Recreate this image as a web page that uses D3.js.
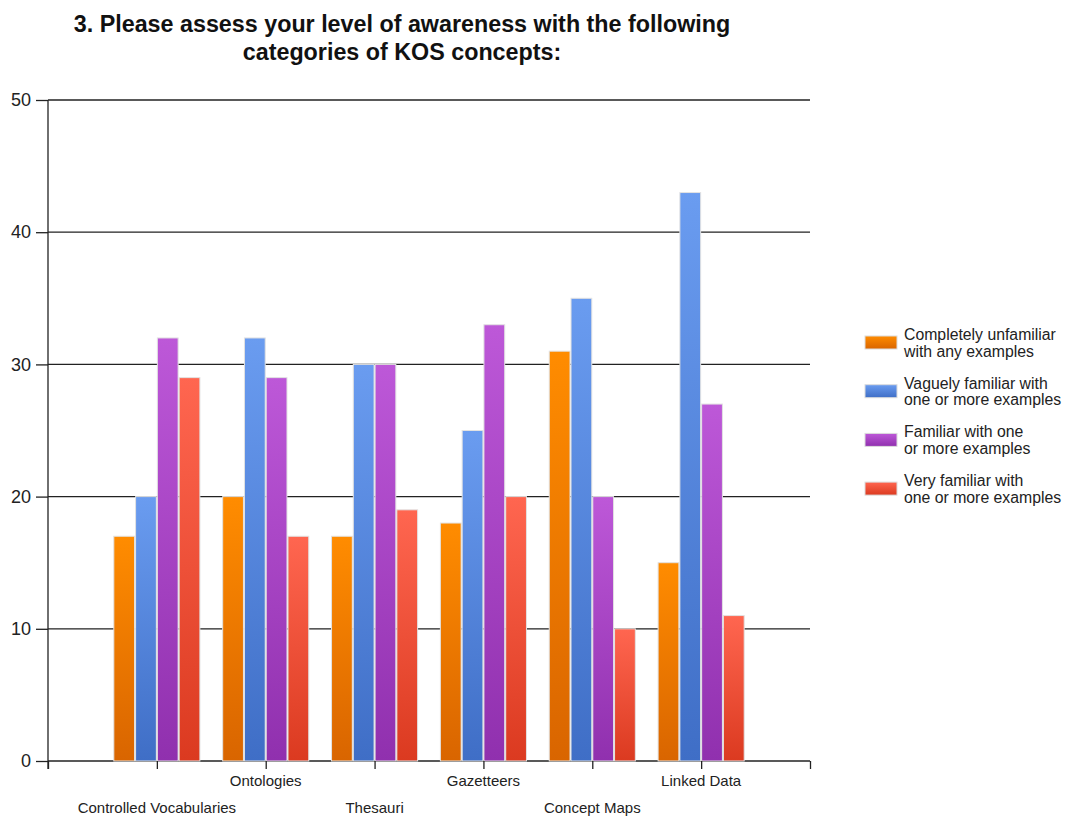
<!DOCTYPE html>
<html>
<head>
<meta charset="utf-8">
<script src="https://cdn.jsdelivr.net/npm/d3@7"></script>
<style>
  body { margin: 0; background: #fff; }
  svg { display: block; font-family: "Liberation Sans", Arial, sans-serif; }
</style>
</head>
<body>
<div id="chart"></div>
<script>
// Daten
const categories = ["Controlled Vocabularies", "Ontologies", "Thesauri", "Gazetteers", "Concept Maps", "Linked Data"];
const seriesNames = [
  ["Completely unfamiliar", "with any examples"],
  ["Vaguely familiar with", "one or more examples"],
  ["Familiar with one", "or more examples"],
  ["Very familiar with", "one or more examples"]
];
const unfamiliar = [17, 20, 17, 18, 31, 15];
const vaguely    = [20, 32, 30, 25, 35, 43];
const familiar   = [32, 29, 30, 33, 20, 27];
const very       = [29, 17, 19, 20, 10, 11];
const yTicks = [0, 10, 20, 30, 40, 50];

const seriesValues = [unfamiliar, vaguely, familiar, very];

// Farben (oben, unten)
const colors = [
  ["#ff8c00", "#d96500"],
  ["#6a9cf0", "#3f6ec6"],
  ["#bd58d8", "#9030ae"],
  ["#ff6650", "#db3a20"]
];

const W = 1067, H = 816;
const M = { top: 100, right: 257, bottom: 55, left: 48 };

const svg = d3.select("#chart").append("svg")
  .attr("width", W)
  .attr("height", H);

const defs = svg.append("defs");
colors.forEach((c, i) => {
  const g = defs.append("linearGradient")
    .attr("id", "grad" + i)
    .attr("x1", 0).attr("y1", 0).attr("x2", 0).attr("y2", 1);
  g.append("stop").attr("offset", "0%").attr("stop-color", c[0]);
  g.append("stop").attr("offset", "100%").attr("stop-color", c[1]);
});

// Skalen
const x0 = d3.scalePoint()
  .domain(categories)
  .range([M.left, W - M.right])
  .padding(1);
const step = x0.step();
const xEdge = d3.scaleLinear().domain([0, categories.length + 1]).range([M.left, W - M.right]);
const x1 = d3.scaleBand()
  .domain(d3.range(seriesValues.length))
  .range([-step * 0.4, step * 0.4]);
const y = d3.scaleLinear().domain([0, 50]).range([H - M.bottom, M.top]);

// Titel
const title = svg.append("text")
  .attr("text-anchor", "middle")
  .style("font-size", "23.3px")
  .style("font-weight", "700")
  .style("fill", "#111");
title.append("tspan").attr("x", 402).attr("y", 32).text("3. Please assess your level of awareness with the following");
title.append("tspan").attr("x", 402).attr("y", 60).text("categories of KOS concepts:");

// Gitterlinien + Y-Achse
const gy = svg.append("g")
  .attr("transform", `translate(${M.left},0)`)
  .call(d3.axisLeft(y).tickValues(yTicks).tickSize(12).tickPadding(5));
gy.select(".domain").remove();
gy.selectAll(".tick line").attr("stroke", "#222").attr("stroke-width", 1.3);
gy.selectAll(".tick text")
  .style("font-size", "18px")
  .style("fill", "#222")
  .attr("font-family", "Liberation Sans, Arial, sans-serif");

svg.append("g")
  .selectAll("line")
  .data(yTicks)
  .join("line")
  .attr("x1", M.left)
  .attr("x2", W - M.right)
  .attr("y1", d => y(d))
  .attr("y2", d => y(d))
  .attr("stroke", "#222")
  .attr("stroke-width", 1.3);

// Balken
const groups = svg.append("g")
  .selectAll("g")
  .data(categories)
  .join("g")
  .attr("transform", d => `translate(${x0(d)},0)`);

groups.selectAll("rect")
  .data((d, ci) => seriesValues.map((s, si) => ({ si, v: s[ci] })))
  .join("rect")
  .attr("x", d => x1(d.si) + 0.5)
  .attr("y", d => y(d.v))
  .attr("width", x1.bandwidth() - 1)
  .attr("height", d => y(0) - y(d.v))
  .attr("fill", d => `url(#grad${d.si})`)
  .attr("stroke", "#e2e2e2")
  .attr("stroke-width", 1);

// X-Achse
const gx = svg.append("g")
  .attr("transform", `translate(0,${y(0)})`)
  .call(d3.axisBottom(xEdge).tickValues(d3.range(categories.length + 2)).tickFormat("").tickSize(8).tickSizeOuter(0));
gx.select(".domain").remove();
gx.selectAll(".tick line").attr("stroke", "#222").attr("stroke-width", 1.3);

svg.append("line")
  .attr("x1", M.left).attr("x2", M.left)
  .attr("y1", y(50)).attr("y2", y(0) + 8)
  .attr("stroke", "#222").attr("stroke-width", 1.3);

svg.append("g")
  .selectAll("text")
  .data(categories)
  .join("text")
  .attr("x", d => x0(d))
  .attr("y", (d, i) => i % 2 === 0 ? 813 : 786)
  .attr("text-anchor", "middle")
  .style("font-size", "15px")
  .style("fill", "#222")
  .text(d => d);

// Legende
const legend = svg.append("g")
  .selectAll("g")
  .data(seriesNames)
  .join("g")
  .attr("transform", (d, i) => `translate(865,${336 + i * 48.7})`);

legend.append("rect")
  .attr("width", 32)
  .attr("height", 13)
  .attr("fill", (d, i) => `url(#grad${i})`)
  .attr("stroke", "#dcdcdc");

legend.append("text")
  .attr("y", 4)
  .style("font-size", "15.8px")
  .style("fill", "#222")
  .selectAll("tspan")
  .data(d => d)
  .join("tspan")
  .attr("x", 39)
  .attr("dy", (d, i) => i === 0 ? 0 : 16.5)
  .text(d => d);
</script>
</body>
</html>
